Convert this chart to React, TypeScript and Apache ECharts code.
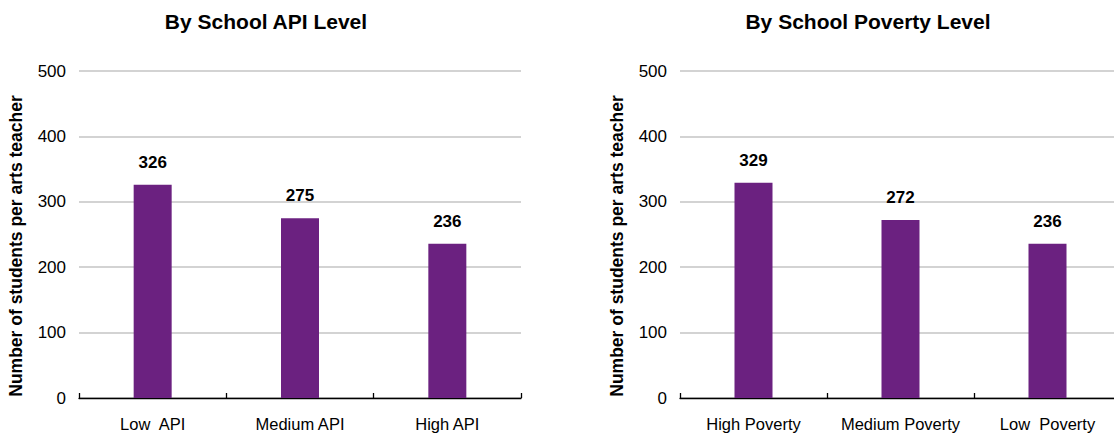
import React, { useEffect, useRef } from "react";
import * as echarts from "echarts";

const apiCategories = ["Low  API", "Medium API", "High API"];
const apiValues = [326, 275, 236];
const povertyCategories = ["High Poverty", "Medium Poverty", "Low  Poverty"];
const povertyValues = [329, 272, 236];
const titles = ["By School API Level", "By School Poverty Level"];
const yAxisName = "Number of students per arts teacher";

const FONT = "Arial, 'Liberation Sans', sans-serif";
const BAR = "#6B2180";

export default function App() {
  const ref = useRef<HTMLDivElement>(null);
  useEffect(() => {
    if (!ref.current) return;
    const chart = echarts.init(ref.current, null, { renderer: "svg" });
    const grids = [
      { left: 79, width: 442, top: 71, height: 327 },
      { left: 680, width: 441, top: 71, height: 327 },
    ];
    const cats = [apiCategories, povertyCategories];
    const vals = [apiValues, povertyValues];
    const option: any = {
      animation: false,
      backgroundColor: "#fff",
      textStyle: { fontFamily: FONT },
      title: [
        { text: titles[0], left: 261, top: 6, textAlign: "center",
          textStyle: { fontFamily: FONT, fontSize: 21, fontWeight: "bold", color: "#000" } },
        { text: titles[1], left: 863, top: 6, textAlign: "center",
          textStyle: { fontFamily: FONT, fontSize: 21, fontWeight: "bold", color: "#000" } },
      ],
      grid: grids.map((g) => ({ ...g, containLabel: false, outerBoundsMode: "none" })),
      xAxis: cats.map((c, i) => ({
        type: "category",
        gridIndex: i,
        data: c,
        axisLine: { lineStyle: { color: "#000", width: 1.3 } },
        axisTick: { show: true, inside: true, length: 5, lineStyle: { color: "#000", width: 1.3 } },
        axisLabel: { color: "#000", fontSize: 16.5, fontFamily: FONT, margin: 17, interval: 0 },
        splitLine: { show: false },
      })),
      yAxis: cats.map((_, i) => ({
        type: "value",
        gridIndex: i,
        min: 0,
        max: 500,
        interval: 100,
        axisLine: { show: false },
        axisTick: { show: false },
        axisLabel: { color: "#000", fontSize: 17, fontFamily: FONT, margin: 13 },
        splitLine: { lineStyle: { color: "#c4c4c4", width: 1.5 } },
      })),
      series: vals.map((v, i) => ({
        type: "bar",
        xAxisIndex: i,
        yAxisIndex: i,
        data: v,
        barWidth: 38,
        itemStyle: { color: BAR },
        label: {
          show: true,
          position: "top",
          distance: 14,
          color: "#000",
          fontSize: 17,
          fontWeight: "bold",
          fontFamily: FONT,
        },
      })),
      graphic: [
        { type: "text", x: 16, y: 246, rotation: Math.PI / 2,
          style: { text: yAxisName, font: `bold 17.5px ${FONT}`, fill: "#000", align: "center", verticalAlign: "middle" } },
        { type: "text", x: 617, y: 246, rotation: Math.PI / 2,
          style: { text: yAxisName, font: `bold 17.5px ${FONT}`, fill: "#000", align: "center", verticalAlign: "middle" } },
      ],
    };
    chart.setOption(option);
    return () => chart.dispose();
  }, []);
  return (
    <div
      ref={ref}
      style={{ position: "fixed", left: 0, top: 0, width: 1114, height: 435 }}
    />
  );
}
